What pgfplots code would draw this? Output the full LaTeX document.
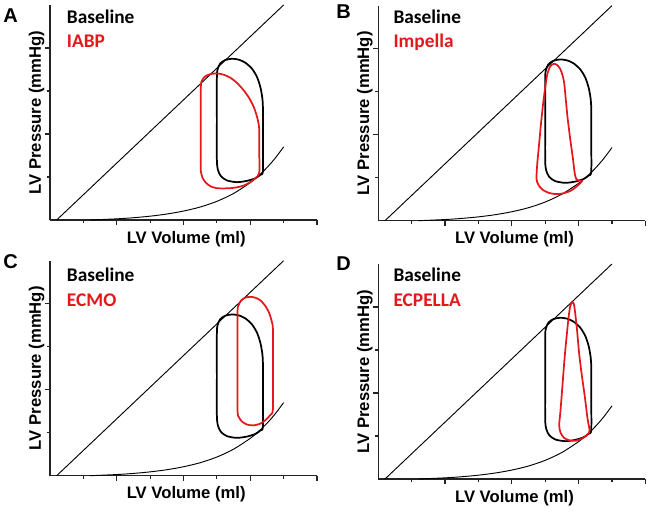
\documentclass[border=0pt]{standalone}
\usepackage{pgfplots}
\pgfplotsset{compat=1.18}
\usepackage{pgfplotstable}
\usepackage{fontspec}
\setmainfont{Liberation Sans}
\newfontfamily\calibri{Carlito}
\definecolor{pvred}{RGB}{228,24,28}
\definecolor{axgray}{RGB}{35,35,35}

% end-systolic and end-diastolic pressure-volume relations
\pgfplotstableread{
x y
0.2 0
7.0 5.0
}\espvr
\pgfplotstableread{
x y
1.2 0
2.0 0.027
2.5 0.053
3.0 0.089
3.5 0.139
4.0 0.208
4.5 0.302
5.0 0.434
5.5 0.617
6.0 0.869
6.25 1.029
6.5 1.218
6.75 1.44
7.0 1.70
}\edpvr
% baseline loop, same in every panel
\pgfplotstableread{
x y
5.0 2.3
5.0 3.3
5.02 3.5
5.1 3.64
5.25 3.72
5.45 3.75
5.65 3.73
5.85 3.66
6.05 3.52
6.2 3.33
6.3 3.1
6.36 2.85
6.38 2.6
6.38 1.9
6.38 1.14
6.3 1.05
6.15 0.97
5.9 0.91
5.6 0.88
5.3 0.92
5.12 1.02
5.03 1.17
5.0 1.4
5.0 2.3
}\baseloop
\pgfplotstableread{
x y
4.52 2.2
4.52 3.1
4.56 3.25
4.65 3.34
4.8 3.39
5.0 3.41
5.2 3.38
5.4 3.31
5.6 3.19
5.8 3.02
5.98 2.82
6.12 2.6
6.22 2.35
6.27 2.1
6.27 1.6
6.27 1.1
6.15 0.97
5.98 0.87
5.8 0.8
5.6 0.76
5.4 0.74
5.2 0.735
5.0 0.74
4.82 0.78
4.68 0.86
4.57 0.98
4.52 1.14
4.52 1.4
4.52 2.2
}\iabp
\pgfplotstableread{
x y
5.13 3.56
5.2 3.63
5.28 3.65
5.36 3.62
5.45 3.53
5.52 3.38
5.57 3.2
5.62 2.8
5.67 2.4
5.75 1.9
5.83 1.45
5.89 1.08
5.95 0.95
6.1 0.92
5.95 0.8
5.75 0.69
5.5 0.63
5.3 0.62
5.1 0.65
4.92 0.72
4.8 0.83
4.74 0.97
4.76 1.3
4.82 1.8
4.88 2.3
4.95 2.8
5.02 3.2
5.06 3.4
5.13 3.56
}\impella
\pgfplotstableread{
x y
5.62 2.5
5.62 3.8
5.65 3.96
5.73 4.08
5.85 4.14
6.0 4.16
6.15 4.14
6.3 4.08
6.45 3.95
6.57 3.78
6.64 3.6
6.68 3.4
6.68 2.5
6.68 1.55
6.6 1.41
6.45 1.29
6.3 1.21
6.1 1.17
5.9 1.19
5.75 1.26
5.66 1.36
5.62 1.5
5.62 2.5
}\ecmo
\pgfplotstableread{
x y
5.81 4.12
5.86 4.07
5.9 3.85
5.95 3.5
6.02 2.9
6.1 2.4
6.19 1.9
6.27 1.4
6.33 1.12
6.25 1.02
6.1 0.94
5.92 0.89
5.72 0.9
5.56 0.96
5.46 1.08
5.42 1.25
5.46 1.6
5.52 2.2
5.58 2.8
5.64 3.3
5.7 3.75
5.75 4.02
5.81 4.12
}\ecpella

\pgfplotsset{
  pvpanel/.style={
    scale only axis, width=200.25pt, height=161.25pt,
    xmin=0, xmax=8, ymin=0, ymax=5,
    axis x line=bottom, axis y line=left,
    axis line style={-, line width=1pt, color=axgray},
    xtick={2,4,6,8}, minor xtick={1,3,5,7},
    ytick={2,4}, minor ytick={1,3},
    xticklabels={}, yticklabels={},
    tick align=outside,
    major tick length=4pt, minor tick length=2.5pt,
    every tick/.style={line width=0.9pt, color=axgray},
    xlabel={LV Volume (ml)}, ylabel={LV Pressure (mmHg)},
    label style={font=\bfseries\fontsize{12.5}{14}\selectfont},
    xlabel style={at={(axis description cs:0.51,-0.108)}, anchor=base},
    ylabel style={at={(axis description cs:-0.034,0.5)}, anchor=base},
    clip=false,
  },
  relline/.style={black, line width=0.7pt, no marks},
  loopline/.style={line width=1.3pt, no marks, smooth, tension=0.45},
}

\begin{document}
\begin{tikzpicture}
\path[use as bounding box] (0pt,0pt) rectangle (491.25pt,386.25pt);

% A: IABP
\begin{axis}[pvpanel, at={(37.5pt,221.25pt)}, anchor=south west]
\addplot[relline] table {\espvr};
\addplot[relline, smooth] table {\edpvr};
\addplot[loopline, black] table {\baseloop};
\addplot[loopline, pvred] table {\iabp};
\end{axis}

% B: Impella
\begin{axis}[pvpanel, at={(283.73pt,220.73pt)}, anchor=south west]
\addplot[relline] table {\espvr};
\addplot[relline, smooth] table {\edpvr};
\addplot[loopline, black] table {\baseloop};
\addplot[loopline, pvred] table {\impella};
\end{axis}

% C: ECMO
\begin{axis}[pvpanel, at={(37.5pt,29.48pt)}, anchor=south west]
\addplot[relline] table {\espvr};
\addplot[relline, smooth] table {\edpvr};
\addplot[loopline, black] table {\baseloop};
\addplot[loopline, pvred] table {\ecmo};
\end{axis}

% D: ECPELLA
\begin{axis}[pvpanel, at={(283.73pt,27pt)}, anchor=south west]
\addplot[relline] table {\espvr};
\addplot[relline, smooth] table {\edpvr};
\addplot[loopline, black] table {\baseloop};
\addplot[loopline, pvred] table {\ecpella};
\end{axis}

\begin{scope}[x=0.75pt, y=0.75pt]
\tikzset{panel/.style={anchor=base west, inner sep=0pt, font=\bfseries\fontsize{15}{16}\selectfont},
  leg/.style={anchor=base west, inner sep=0pt, font=\calibri\bfseries\fontsize{14.5}{16}\selectfont}}
\node[panel] at (3,492) {A};
\node[panel] at (336,496.7) {B};
\node[panel] at (3,247) {C};
\node[panel] at (336,245) {D};

\node[leg] at (66.7,491) {Baseline};
\node[leg, text=pvred] at (66.7,467.3) {IABP};
\node[leg] at (393.3,491) {Baseline};
\node[leg, text=pvred] at (393.3,467.3) {Impella};
\node[leg] at (66.7,234) {Baseline};
\node[leg, text=pvred] at (66.7,208.3) {ECMO};
\node[leg] at (393.3,233.3) {Baseline};
\node[leg, text=pvred] at (393.3,208.3) {ECPELLA};
\end{scope}
\end{tikzpicture}
\end{document}
